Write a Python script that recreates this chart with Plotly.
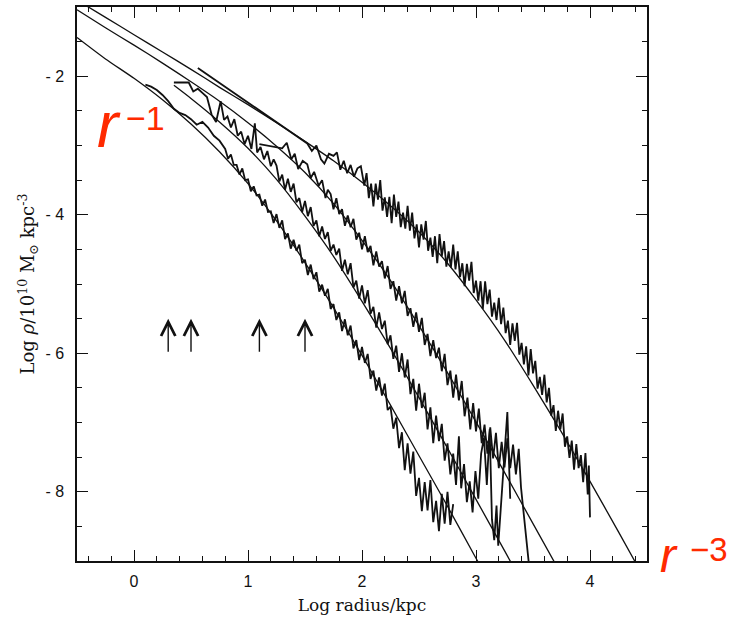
import plotly.graph_objects as go

# ---------------- data ----------------
# smooth fitted profiles (log radius, log density)
F1_X = [-0.5, -0.25, 0, 0.25, 0.5, 0.75, 1.0, 1.25, 1.5, 1.75, 2.0, 2.25, 2.5, 2.75, 3.0, 3.05]
F1_Y = [-1.44, -1.75, -2.03, -2.34, -2.69, -3.09, -3.55, -4.09, -4.69, -5.34, -6.03, -6.75, -7.48, -8.21, -8.96, -9.11]

F2_X = [0.35, 0.5, 0.75, 1.0, 1.25, 1.5, 1.75, 2.0, 2.25, 2.5, 2.75, 3.0, 3.25, 3.35]
F2_Y = [-2.13, -2.32, -2.66, -3.04, -3.49, -4.02, -4.60, -5.25, -5.93, -6.64, -7.37, -8.11, -8.85, -9.15]

F3_X = [-0.5, -0.25, 0, 0.25, 0.5, 0.75, 1.0, 1.25, 1.5, 1.75, 2.0, 2.25, 2.5, 2.75, 3.0, 3.25, 3.5, 3.75]
F3_Y = [-1.04, -1.30, -1.55, -1.81, -2.08, -2.36, -2.67, -3.01, -3.39, -3.84, -4.37, -4.95, -5.60, -6.28, -6.99, -7.72, -8.46, -9.20]

F4_X = [-0.5, -0.25, 0, 0.25, 0.5, 0.75, 1.0, 1.25, 1.5, 1.75, 2.0, 2.25, 2.5, 2.75, 3.0, 3.25, 3.5, 3.75, 4.0, 4.25, 4.5]
F4_Y = [-0.90, -1.15, -1.40, -1.65, -1.90, -2.16, -2.41, -2.67, -2.94, -3.22, -3.53, -3.87, -4.25, -4.70, -5.23, -5.81, -6.46, -7.14, -7.85, -8.58, -9.32]

# noisy simulated profiles
P1_X = [0.10, 0.15, 0.20, 0.25, 0.30, 0.35, 0.40, 0.45, 0.50, 0.55, 0.60, 0.65, 0.70, 0.75,
        0.800, 0.825, 0.850, 0.875, 0.900, 0.925, 0.950, 0.975, 1.000, 1.025,
        1.050, 1.075, 1.100, 1.125, 1.150, 1.175, 1.200, 1.225, 1.250, 1.275,
        1.300, 1.325, 1.350, 1.375, 1.400, 1.425, 1.450, 1.475, 1.500, 1.525,
        1.550, 1.575, 1.600, 1.625, 1.650, 1.675, 1.700, 1.725, 1.750, 1.775,
        1.800, 1.825, 1.850, 1.875, 1.900, 1.925, 1.950, 1.975, 2.000, 2.025,
        2.050, 2.075, 2.100, 2.125, 2.150, 2.175, 2.200, 2.225, 2.250, 2.275,
        2.300, 2.325, 2.350, 2.375, 2.400, 2.425, 2.450, 2.475, 2.500, 2.525,
        2.550, 2.575, 2.600, 2.625, 2.650, 2.675, 2.700, 2.725, 2.750, 2.775,
        2.800]
P1_Y = [-2.12, -2.15, -2.20, -2.27, -2.36, -2.47, -2.53, -2.56, -2.62, -2.70, -2.66, -2.74, -2.86, -2.93,
        -3.05, -3.19, -3.13, -3.28, -3.28, -3.42, -3.33, -3.50, -3.49, -3.66,
        -3.59, -3.72, -3.71, -3.87, -3.78, -3.96, -3.95, -4.12, -3.99, -4.19,
        -4.08, -4.35, -4.27, -4.49, -4.36, -4.52, -4.43, -4.70, -4.65, -4.87,
        -4.72, -4.93, -4.83, -5.11, -5.01, -5.17, -5.07, -5.36, -5.29, -5.52,
        -5.41, -5.68, -5.51, -5.74, -5.60, -5.93, -5.81, -6.10, -5.91, -6.14,
        -6.01, -6.37, -6.25, -6.54, -6.35, -6.61, -6.44, -6.82, -6.77, -7.09,
        -6.93, -7.37, -7.14, -7.69, -7.30, -7.74, -7.42, -8.06, -7.80, -8.28,
        -7.86, -8.27, -7.83, -8.44, -8.13, -8.57, -8.03, -8.46, -8.00, -8.48,
        -8.18]

P2_X = [0.35, 0.48, 0.52, 0.56, 0.60, 0.64, 0.68, 0.72, 0.76, 0.79,
        0.82, 0.85, 0.88, 0.91, 0.94, 0.97, 1.00, 1.03, 1.06, 1.08,
        1.11, 1.14, 1.17, 1.20, 1.225,
        1.250, 1.275, 1.300, 1.325, 1.350, 1.375, 1.400, 1.425, 1.450, 1.475,
        1.500, 1.525, 1.550, 1.575, 1.600, 1.625, 1.650, 1.675, 1.700, 1.725,
        1.750, 1.775, 1.800, 1.825, 1.850, 1.875, 1.900, 1.925, 1.950, 1.975,
        2.000, 2.025, 2.050, 2.075, 2.100, 2.125, 2.150, 2.175, 2.200, 2.225,
        2.250, 2.275, 2.300, 2.325, 2.350, 2.375, 2.400, 2.425, 2.450, 2.475,
        2.500, 2.525, 2.550, 2.575, 2.600, 2.625, 2.650, 2.675, 2.700,
        2.725, 2.750, 2.775, 2.800, 2.825, 2.850, 2.870, 2.895, 2.920, 2.945,
        2.970, 2.995, 3.020, 3.045, 3.070, 3.095, 3.120, 3.140, 3.160, 3.180,
        3.195, 3.215, 3.235, 3.255, 3.275, 3.290, 3.300]
P2_Y = [-2.09, -2.09, -2.22, -2.18, -2.24, -2.30, -2.55, -2.66, -2.36, -2.63,
        -2.58, -2.74, -2.62, -2.86, -2.80, -2.98, -2.86, -3.05, -2.68, -3.10,
        -3.02, -3.20, -3.08, -3.30, -3.20,
        -3.29, -3.52, -3.42, -3.64, -3.48, -3.67, -3.55, -3.82, -3.76, -3.96,
        -3.80, -4.02, -3.89, -4.16, -4.08, -4.31, -4.17, -4.35, -4.25, -4.52,
        -4.43, -4.58, -4.49, -4.81, -4.65, -4.86, -4.70, -5.05, -4.95, -5.21,
        -5.02, -5.28, -5.09, -5.43, -5.33, -5.63, -5.41, -5.65, -5.53, -5.87,
        -5.74, -6.08, -5.89, -6.27, -6.00, -6.35, -6.09, -6.59, -6.37, -6.83,
        -6.44, -6.79, -6.57, -7.10, -6.78, -7.30, -6.90, -7.27, -7.02,
        -7.55, -7.30, -7.75, -7.45, -7.90, -7.20, -7.95, -7.60, -8.15, -7.85,
        -8.30, -7.70, -8.10, -7.45, -7.22, -7.90, -7.10, -8.40, -8.70, -8.20,
        -8.78, -8.30, -7.90, -7.30, -6.85, -7.60, -8.10]

P3_X = [1.10, 1.30, 1.34, 1.38, 1.41, 1.44, 1.48, 1.52, 1.55, 1.58, 1.62, 1.65, 1.68, 1.70,
        1.725, 1.750, 1.775, 1.800, 1.825, 1.850, 1.875, 1.900, 1.925, 1.950,
        1.975, 2.000, 2.025, 2.050, 2.075, 2.100, 2.125, 2.150, 2.175, 2.200,
        2.225, 2.250, 2.275, 2.300, 2.325, 2.350, 2.375, 2.400, 2.425, 2.450,
        2.475, 2.500, 2.525, 2.550, 2.575, 2.600, 2.625, 2.650, 2.675, 2.700,
        2.725, 2.750, 2.775, 2.800, 2.825, 2.850, 2.875, 2.900, 2.925, 2.950,
        2.975, 3.000, 3.025, 3.050, 3.075, 3.100, 3.125, 3.150, 3.175, 3.200,
        3.225, 3.250, 3.275, 3.300, 3.325, 3.350, 3.375, 3.395, 3.480]
P3_Y = [-2.98, -3.04, -2.96, -3.20, -3.12, -3.34, -3.22, -3.27, -3.47, -3.38, -3.58, -3.50, -3.76, -3.64,
        -3.70, -3.92, -3.76, -3.99, -3.92, -4.16, -4.01, -4.18, -4.06, -4.36,
        -4.26, -4.50, -4.31, -4.54, -4.45, -4.73, -4.53, -4.75, -4.67, -4.92,
        -4.74, -5.07, -4.96, -5.24, -5.03, -5.28, -5.10, -5.46, -5.35, -5.62,
        -5.41, -5.69, -5.49, -5.88, -5.72, -6.04, -5.81, -6.07, -5.92, -6.26,
        -6.01, -6.46, -6.25, -6.64, -6.31, -6.68, -6.40, -6.91, -6.64, -7.10,
        -6.72, -7.13, -6.80, -7.30, -7.03, -7.45, -7.07, -7.52, -7.15, -7.66,
        -7.28, -7.65, -7.23, -7.66, -7.32, -7.75, -7.38, -7.94, -9.30]

P4_X = [0.56, 1.52, 1.56, 1.60, 1.64, 1.67, 1.71, 1.75, 1.78, 1.81, 1.84, 1.87, 1.90, 1.93, 1.96, 1.99, 2.02,
        2.04, 2.06, 2.08, 2.10, 2.12, 2.14, 2.16, 2.18, 2.20, 2.22,
        2.24, 2.26, 2.28, 2.30, 2.32, 2.34, 2.36, 2.38, 2.40, 2.42,
        2.44, 2.46, 2.48, 2.50, 2.52, 2.54, 2.56, 2.58, 2.60, 2.62,
        2.64, 2.66, 2.68, 2.70, 2.72, 2.74, 2.76, 2.78, 2.80, 2.82,
        2.84, 2.86, 2.88, 2.90, 2.92, 2.94, 2.96, 2.98, 3.00, 3.02,
        3.04, 3.06, 3.08, 3.10, 3.12, 3.14, 3.16, 3.18, 3.20, 3.22,
        3.24, 3.26, 3.28, 3.30, 3.32, 3.34, 3.36, 3.38, 3.40, 3.42,
        3.44, 3.46, 3.48, 3.50, 3.52, 3.54, 3.56, 3.58, 3.60, 3.62,
        3.64, 3.66, 3.68, 3.70, 3.72, 3.74, 3.76, 3.78, 3.80, 3.82,
        3.84, 3.86, 3.88, 3.90, 3.92, 3.94, 3.96, 3.98, 3.99, 4.00]
P4_Y = [-1.88, -2.97, -3.08, -3.00, -3.20, -3.26, -3.12, -3.15, -3.10, -3.35, -3.22, -3.40, -3.28, -3.45, -3.33, -3.30, -3.58,
        -3.40, -3.76, -3.55, -3.88, -3.55, -3.78, -3.50, -3.94, -3.75, -4.03,
        -3.74, -4.12, -3.71, -4.03, -3.81, -4.18, -3.97, -4.20, -3.87, -4.23,
        -3.97, -4.34, -4.14, -4.47, -4.14, -4.36, -4.09, -4.52, -4.33, -4.61,
        -4.31, -4.70, -4.28, -4.60, -4.38, -4.75, -4.53, -4.76, -4.43, -4.79,
        -4.53, -4.90, -4.70, -5.03, -4.71, -4.95, -4.68, -5.13, -4.95, -5.24,
        -4.96, -5.36, -4.96, -5.29, -5.08, -5.47, -5.27, -5.52, -5.20, -5.58,
        -5.34, -5.71, -5.53, -5.88, -5.57, -5.82, -5.56, -6.02, -5.85, -6.16,
        -5.90, -6.32, -5.94, -6.29, -6.11, -6.51, -6.34, -6.60, -6.31, -6.71,
        -6.50, -6.90, -6.75, -7.12, -6.83, -7.10, -6.87, -7.35, -7.20, -7.51,
        -7.26, -7.68, -7.31, -7.66, -7.47, -7.86, -7.44, -8.04, -7.62, -8.37]

# arrows (log radius of each marker), drawn from ARROW_Y0 up to ARROW_Y1
ARROW_X = [0.3, 0.5, 1.1, 1.5]
ARROW_Y0 = -6.0
ARROW_Y1 = -5.5

X_TICKS = [0, 1, 2, 3, 4]
X_TICK_LABELS = ["0", "1", "2", "3", "4"]
Y_TICKS = [-8, -6, -4, -2]
Y_TICK_LABELS = ["- 8", "- 6", "- 4", "- 2"]

# ---------------- figure ----------------
INK = "#111111"
fig = go.Figure()

for fx, fy in [(F1_X, F1_Y), (F2_X, F2_Y), (F3_X, F3_Y), (F4_X, F4_Y)]:
    fig.add_trace(go.Scatter(x=fx, y=fy, mode="lines",
                             line=dict(color=INK, width=1.3, shape="spline", smoothing=0.6),
                             hoverinfo="skip", showlegend=False))

for px, py in [(P1_X, P1_Y), (P2_X, P2_Y), (P3_X, P3_Y), (P4_X, P4_Y)]:
    fig.add_trace(go.Scatter(x=px, y=py, mode="lines",
                             line=dict(color=INK, width=1.8),
                             hoverinfo="skip", showlegend=False))

annotations = []
for ax_ in ARROW_X:
    annotations.append(dict(x=ax_, y=ARROW_Y1, ax=ax_, ay=ARROW_Y0,
                            xref="x", yref="y", axref="x", ayref="y",
                            text="", showarrow=True, arrowhead=5, arrowsize=2.0,
                            arrowwidth=1.4, arrowcolor=INK))

RED = "#ff2a00"
annotations += [
    dict(xref="paper", yref="paper", x=0.056, y=0.787, text="<i>r</i>", showarrow=False,
         font=dict(family="Liberation Sans", size=64, color=RED), xanchor="center", yanchor="middle"),
    dict(xref="paper", yref="paper", x=0.121, y=0.800, text="\u22121", showarrow=False,
         font=dict(family="Liberation Sans", size=34, color=RED), xanchor="center", yanchor="middle"),
    dict(xref="paper", yref="paper", x=1.0386, y=0.010, text="<i>r</i>", showarrow=False,
         font=dict(family="Liberation Sans", size=48, color=RED), xanchor="center", yanchor="middle"),
    dict(xref="paper", yref="paper", x=1.108, y=0.020, text="\u22123", showarrow=False,
         font=dict(family="Liberation Sans", size=33, color=RED), xanchor="center", yanchor="middle"),
]

axis_common = dict(showgrid=False, zeroline=False, showline=True, linecolor=INK, linewidth=1.5,
                   mirror="allticks", ticks="inside", ticklen=11, tickwidth=1.2, tickcolor=INK,
                   tickfont=dict(family="Liberation Sans", size=16, color=INK))

fig.update_layout(
    width=731, height=617,
    margin=dict(l=77, r=84, t=5, b=54),
    paper_bgcolor="white", plot_bgcolor="white",
    annotations=annotations,
    xaxis=dict(range=[-0.5, 4.5], tickvals=X_TICKS, ticktext=X_TICK_LABELS,
               minor=dict(ticks="inside", ticklen=5, tickwidth=1, tickcolor=INK, dtick=0.2, tick0=0),
               ticklabelstandoff=5,
               title=dict(text="Log radius/kpc", standoff=10,
                          font=dict(family="DejaVu Serif", size=17, color=INK)),
               **axis_common),
    yaxis=dict(range=[-9, -1], tickvals=Y_TICKS, ticktext=Y_TICK_LABELS,
               minor=dict(ticks="inside", ticklen=5, tickwidth=1, tickcolor=INK, dtick=0.5, tick0=0),
               ticklabelstandoff=8,
               title=dict(text="Log <i>\u03c1</i>/10<sup>10</sup> M<sub>\u2299</sub> kpc<sup>-3</sup>",
                          standoff=6,
                          font=dict(family="DejaVu Serif", size=18, color=INK)),
               **axis_common),
)

fig.write_html("out.html")
